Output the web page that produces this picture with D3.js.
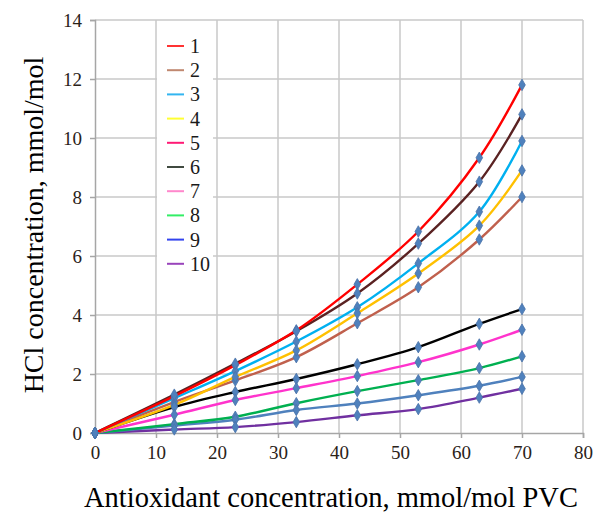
<!DOCTYPE html>
<html><head><meta charset="utf-8">
<script src="https://cdn.jsdelivr.net/npm/d3@7"></script>
<style>body{margin:0;background:#fff}svg{display:block}</style>
</head><body><svg id="c" width="597" height="513"></svg>
<script>
const xValues = [0, 13, 23, 33, 43, 53, 63, 70];
const seriesNames = ["1","2","3","4","5","6","7","8","9","10"];
const s1  = [0, 1.25, 2.30, 3.48, 5.04, 6.83, 9.33, 11.8];
const s2  = [0, 1.05, 1.78, 2.57, 3.72, 4.94, 6.56, 8.0];
const s3  = [0, 1.18, 2.10, 3.10, 4.26, 5.75, 7.50, 9.9];
const s4  = [0, 0.95, 1.90, 2.80, 4.06, 5.41, 7.03, 8.9];
const s5  = [0, 1.30, 2.35, 3.45, 4.73, 6.42, 8.52, 10.8];
const s6  = [0, 0.88, 1.39, 1.83, 2.33, 2.91, 3.70, 4.2];
const s7  = [0, 0.62, 1.12, 1.52, 1.93, 2.40, 3.00, 3.5];
const s8  = [0, 0.30, 0.55, 1.01, 1.42, 1.79, 2.20, 2.6];
const s9  = [0, 0.25, 0.45, 0.78, 1.00, 1.28, 1.60, 1.9];
const s10 = [0, 0.12, 0.20, 0.37, 0.60, 0.81, 1.20, 1.5];
const seriesValues = [s1,s2,s3,s4,s5,s6,s7,s8,s9,s10];
const lineColors   = ["#ff0000","#c0604d","#00b0f0","#ffc000","#5a2222","#000000","#ff33cc","#00b050","#4f81bd","#7030a0"];
const legendColors = ["#ff3333","#c08870","#33b5f0","#ffff33","#ff1a75","#404a40","#ff88cc","#33ee66","#3344ee","#9944bb"];
const xTicks = [0,10,20,30,40,50,60,70,80];
const yTicks = [0,2,4,6,8,10,12,14];

const svg = d3.select("#c");
const L = 95, R = 583, T = 20, B = 433;
const x = d3.scaleLinear().domain([0,80]).range([L,R]);
const y = d3.scaleLinear().domain([0,14]).range([B,T]);
const serif = "'Liberation Serif','Times New Roman',serif";

// gridlines
svg.append("g").selectAll("line").data(xTicks.slice(1)).join("line")
  .attr("x1",d=>x(d)).attr("x2",d=>x(d)).attr("y1",T).attr("y2",B)
  .attr("stroke","#c8c8c8").attr("stroke-width",1.5);
svg.append("g").selectAll("line").data(yTicks.slice(1)).join("line")
  .attr("x1",L).attr("x2",R).attr("y1",d=>y(d)).attr("y2",d=>y(d))
  .attr("stroke","#c8c8c8").attr("stroke-width",1.5);

// axes
const xAxis = svg.append("g").attr("transform",`translate(0,${B})`)
  .call(d3.axisBottom(x).tickValues(xTicks).tickSize(5).tickPadding(8));
const yAxis = svg.append("g").attr("transform",`translate(${L},0)`)
  .call(d3.axisLeft(y).tickValues(yTicks).tickSize(5).tickPadding(8));
[xAxis,yAxis].forEach(a=>{
  a.select(".domain").attr("stroke","#a6a6a6").attr("stroke-width",1.5);
  a.selectAll(".tick line").attr("stroke","#a6a6a6").attr("stroke-width",1.5);
  a.selectAll("text").attr("font-family",serif).attr("font-size",19).attr("fill","#2a2218");
});

// legend
const lg = svg.append("g");
lg.append("rect").attr("x",157).attr("y",32).attr("width",56).attr("height",240).attr("fill","#fff");
seriesNames.forEach((n,i)=>{
  const yy = 46 + i*24.2;
  lg.append("line").attr("x1",167).attr("x2",184).attr("y1",yy).attr("y2",yy)
    .attr("stroke",legendColors[i]).attr("stroke-width",2);
  lg.append("text").attr("x",190).attr("y",yy+7).text(n)
    .attr("font-family",serif).attr("font-size",20).attr("fill","#1a1a1a");
});

// lines
const line = d3.line().x((d,i)=>x(xValues[i])).y(d=>y(d)).curve(d3.curveCatmullRom.alpha(0.5));
[9,8,7,6,5,1,3,2,4,0].forEach(i=>{
  svg.append("path").attr("d",line(seriesValues[i])).attr("fill","none")
    .attr("stroke",lineColors[i]).attr("stroke-width",2.4);
});
// markers
const diamond = d3.symbol().type(d3.symbolDiamond).size(38);
seriesValues.forEach(vals=>{
  svg.append("g").selectAll("path").data(vals).join("path")
    .attr("d",diamond).attr("transform",(d,i)=>`translate(${x(xValues[i])},${y(d)})`)
    .attr("fill","#4f81bd").attr("stroke","#4a72a8").attr("stroke-width",0.8);
});

// titles
svg.append("text").attr("x",331).attr("y",507).attr("text-anchor","middle")
  .attr("font-family",serif).attr("font-size",28.5).attr("fill","#000")
  .text("Antioxidant concentration, mmol/mol PVC");
svg.append("text").attr("transform","translate(43,225) rotate(-90)").attr("text-anchor","middle")
  .attr("font-family",serif).attr("font-size",28).attr("fill","#000")
  .text("HCl concentration, mmol/mol");
</script></body></html>
